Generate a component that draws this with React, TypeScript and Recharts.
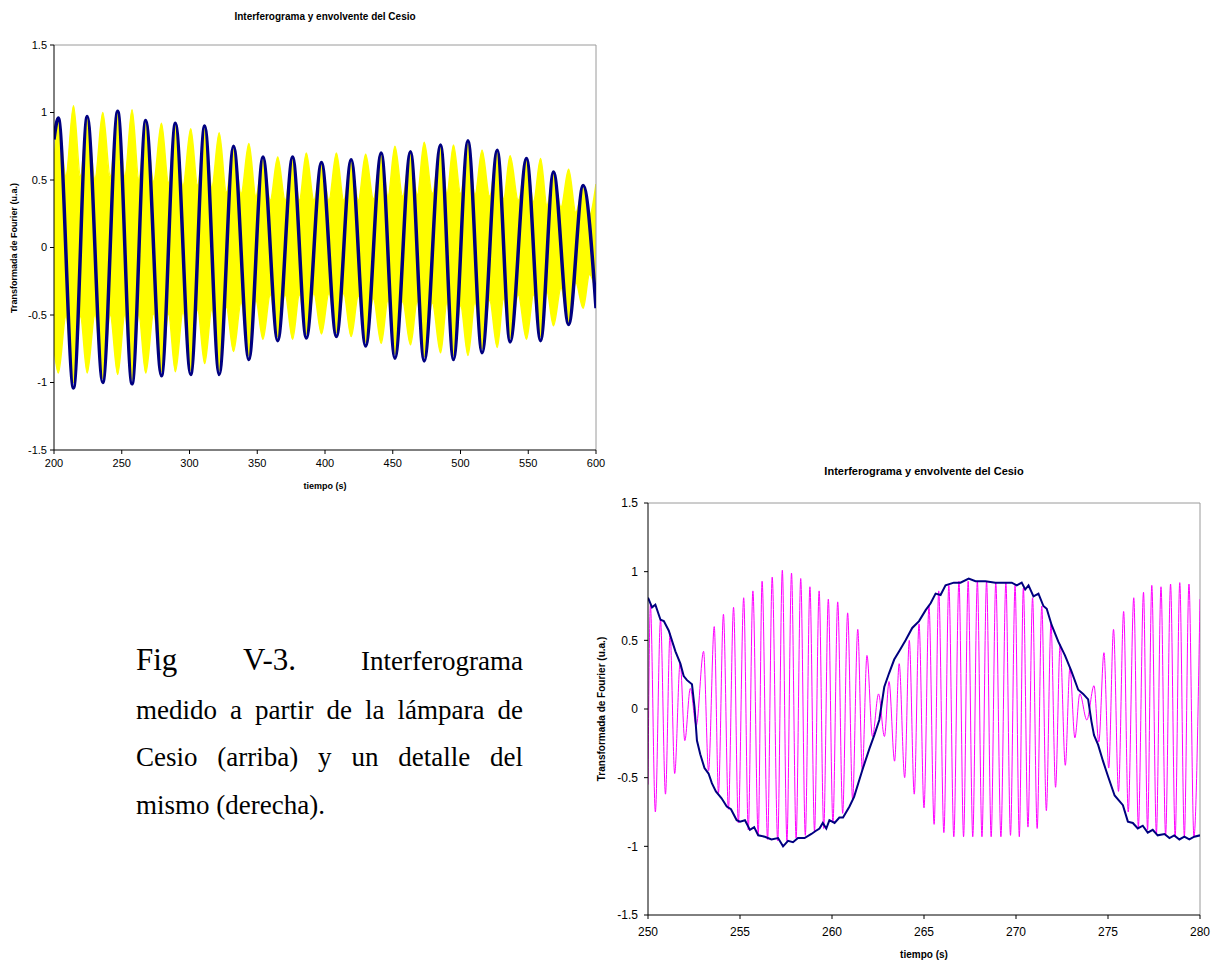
import React from 'react';
import {
    ComposedChart,
    Line,
    Area,
    XAxis,
    YAxis,
    ReferenceLine
} from 'recharts';

// ---- top panel: full interferogram 200–600 s ----
const overviewTicksX = [200, 250, 300, 350, 400, 450, 500, 550, 600];
const valueTicks = [-1.5, -1, -0.5, 0, 0.5, 1, 1.5];

// interferogram band (dense carrier drawn as its filled envelope): lobe centres and nodes
const bandTime = [
    200, 203.2, 208.8, 214.4, 219.5, 224.5, 230.2, 236.0, 241.5, 247.0, 252.3, 257.6, 262.6, 267.7,
    273.5, 279.3, 284.5, 289.6, 295.2, 300.9, 306.0, 311.2, 316.5, 321.9, 327.2, 332.5, 338.1, 343.8,
    349.0, 354.2, 359.6, 365.1, 370.6, 376.1, 381.1, 386.2, 391.8, 397.4, 402.9, 408.4, 413.8, 419.3,
    424.6, 430.0, 435.7, 441.5, 446.5, 451.6, 457.3, 463.1, 468.1, 473.2, 479.2, 485.3, 490.0, 494.8,
    500.1, 505.5, 510.7, 515.9, 521.5, 527.1, 531.8, 536.6, 542.6, 548.7, 553.9, 559.1, 563.8, 568.6,
    574.2, 579.8, 585.1, 590.5, 595.2, 600
];
const bandHigh = [
    0.62, 0.94, 0.53, 1.05, 0.53, 0.95, 0.51, 1.00, 0.53, 0.99, 0.53, 1.02, 0.51, 0.92,
    0.49, 0.92, 0.48, 0.90, 0.46, 0.88, 0.46, 0.88, 0.45, 0.85, 0.41, 0.73, 0.40, 0.77,
    0.38, 0.65, 0.35, 0.67, 0.35, 0.65, 0.35, 0.70, 0.35, 0.61, 0.35, 0.70, 0.35, 0.63,
    0.35, 0.69, 0.36, 0.68, 0.38, 0.75, 0.38, 0.69, 0.39, 0.78, 0.40, 0.74, 0.40, 0.76,
    0.40, 0.77, 0.39, 0.72, 0.38, 0.70, 0.36, 0.68, 0.35, 0.64, 0.34, 0.66, 0.31, 0.54,
    0.30, 0.58, 0.26, 0.44, 0.24, 0.47
];
const bandLow = [
    -0.75, -0.93, -0.51, -1.00, -0.51, -0.93, -0.50, -0.97, -0.50, -0.94, -0.50, -0.98, -0.50, -0.93,
    -0.49, -0.92, -0.49, -0.92, -0.48, -0.91, -0.46, -0.86, -0.46, -0.91, -0.44, -0.77, -0.41, -0.80,
    -0.39, -0.68, -0.35, -0.66, -0.35, -0.68, -0.35, -0.64, -0.34, -0.64, -0.34, -0.63, -0.34, -0.66,
    -0.36, -0.70, -0.38, -0.71, -0.39, -0.79, -0.40, -0.72, -0.40, -0.81, -0.41, -0.78, -0.41, -0.80,
    -0.43, -0.80, -0.41, -0.75, -0.39, -0.74, -0.38, -0.67, -0.35, -0.68, -0.35, -0.66, -0.33, -0.58,
    -0.30, -0.55, -0.26, -0.45, -0.20, -0.33
];

// envelope extremes over the whole record
const envTime = [
    200, 203.2, 214.4, 224.5, 236.0, 247.0, 257.6, 267.7, 279.3, 289.6, 300.9, 311.2, 321.9,
    332.5, 343.8, 354.2, 365.1, 376.1, 386.2, 397.4, 408.4, 419.3, 430.0, 441.5, 451.6, 463.1,
    473.2, 485.3, 494.8, 505.5, 515.9, 527.1, 536.6, 548.7, 559.1, 568.6, 579.8, 590.5, 600
];
const envValue = [
    0.80, 0.96, -1.04, 0.97, -1.00, 1.01, -1.01, 0.94, -0.95, 0.92, -0.94, 0.90, -0.94,
    0.75, -0.83, 0.67, -0.69, 0.67, -0.67, 0.63, -0.66, 0.65, -0.73, 0.70, -0.82, 0.71,
    -0.84, 0.76, -0.83, 0.79, -0.78, 0.72, -0.70, 0.66, -0.69, 0.56, -0.57, 0.46, -0.45
];

// ---- bottom panel: detail 250–280 s ----
const detailTicksX = [250, 255, 260, 265, 270, 275, 280];

const signalTime = [
    250.00, 250.13, 250.40, 250.68, 250.95, 251.20, 251.45, 251.75, 252.00, 252.30, 252.62,
    253.02, 253.29, 253.60, 253.83, 254.10, 254.37, 254.65, 254.91, 255.20, 255.45, 255.70,
    255.99, 256.20, 256.50, 256.75, 257.05, 257.30, 257.55, 257.80, 258.05, 258.30, 258.55,
    258.80, 259.05, 259.30, 259.55, 259.80, 260.05, 260.31, 260.58, 260.85, 261.12, 261.40,
    261.65, 261.90, 262.20, 262.53, 262.85, 263.10, 263.40, 263.65, 263.95, 264.20, 264.47,
    264.73, 265.00, 265.27, 265.55, 265.80, 266.08, 266.35, 266.62, 266.90, 267.15, 267.40,
    267.65, 267.90, 268.15, 268.40, 268.65, 268.90, 269.18, 269.45, 269.70, 269.95, 270.18,
    270.40, 270.65, 270.90, 271.15, 271.40, 271.65, 271.90, 272.15, 272.40, 272.68, 272.93,
    273.20, 273.47, 273.85, 274.24, 274.50, 274.78, 275.04, 275.30, 275.57, 275.85, 276.10,
    276.40, 276.65, 276.93, 277.15, 277.38, 277.63, 277.88, 278.13, 278.40, 278.65, 278.90,
    279.15, 279.40, 279.67, 280.00
];
const signalValue = [
    -0.55, 0.76, -0.75, 0.65, -0.62, 0.55, -0.47, 0.34, -0.23, 0.15, -0.12,
    0.42, -0.45, 0.60, -0.61, 0.69, -0.73, 0.74, -0.83, 0.81, -0.88, 0.86,
    -0.92, 0.93, -0.95, 0.96, -0.96, 1.01, -0.96, 0.99, -0.94, 0.95, -0.92,
    0.89, -0.89, 0.86, -0.87, 0.80, -0.83, 0.78, -0.76, 0.70, -0.66, 0.58,
    -0.45, 0.39, -0.20, 0.11, -0.20, 0.20, -0.38, 0.33, -0.50, 0.50, -0.62,
    0.62, -0.72, 0.75, -0.84, 0.86, -0.90, 0.90, -0.93, 0.93, -0.93, 0.93,
    -0.93, 0.93, -0.93, 0.93, -0.93, 0.92, -0.93, 0.92, -0.92, 0.90, -0.93,
    0.88, -0.86, 0.81, -0.87, 0.75, -0.74, 0.62, -0.57, 0.47, -0.41, 0.30,
    -0.21, 0.11, -0.08, 0.17, -0.24, 0.41, -0.43, 0.58, -0.60, 0.71, -0.75,
    0.81, -0.86, 0.85, -0.88, 0.90, -0.91, 0.89, -0.92, 0.91, -0.93, 0.92,
    -0.93, 0.91, -0.93, 0.80
];

const detailEnvTime = [
    250.00, 250.22, 250.40, 250.68, 250.86, 251.13, 251.49, 251.76, 251.94, 252.12, 252.39,
    252.53, 252.66, 252.84, 253.07, 253.29, 253.47, 253.69, 254.00, 254.28, 254.51, 254.82,
    255.00, 255.27, 255.54, 255.77, 255.99, 256.35, 256.71, 257.07, 257.34, 257.61, 257.88,
    258.15, 258.51, 258.88, 259.09, 259.32, 259.50, 259.69, 259.86, 260.14, 260.40, 260.60,
    260.95, 261.20, 261.66, 262.03, 262.30, 262.57, 262.84, 263.10, 263.38, 263.65, 264.00,
    264.36, 264.73, 265.09, 265.36, 265.63, 265.90, 266.17, 266.62, 266.98, 267.43, 267.80,
    268.34, 268.88, 269.42, 269.77, 270.04, 270.31, 270.50, 270.68, 270.95, 271.22, 271.49,
    271.67, 271.94, 272.30, 272.66, 273.00, 273.38, 273.65, 273.92, 274.10, 274.24, 274.46,
    274.73, 275.00, 275.36, 275.81, 276.08, 276.35, 276.62, 276.89, 277.16, 277.43, 277.70,
    278.07, 278.34, 278.60, 278.88, 279.15, 279.42, 279.69, 280.00
];
const detailEnvValue = [
    0.81, 0.74, 0.76, 0.65, 0.64, 0.57, 0.42, 0.33, 0.24, 0.21, 0.18,
    0.01, -0.23, -0.33, -0.43, -0.47, -0.54, -0.60, -0.65, -0.71, -0.73, -0.81,
    -0.82, -0.81, -0.88, -0.86, -0.92, -0.93, -0.95, -0.94, -1.00, -0.96, -0.97,
    -0.94, -0.94, -0.91, -0.89, -0.87, -0.83, -0.87, -0.81, -0.83, -0.79, -0.79,
    -0.71, -0.64, -0.44, -0.29, -0.19, -0.08, 0.16, 0.26, 0.36, 0.42, 0.50,
    0.59, 0.64, 0.72, 0.77, 0.84, 0.83, 0.90, 0.92, 0.92, 0.95, 0.93,
    0.93, 0.92, 0.92, 0.92, 0.90, 0.92, 0.87, 0.90, 0.82, 0.84, 0.75,
    0.73, 0.61, 0.49, 0.39, 0.28, 0.14, 0.11, 0.07, -0.09, -0.19, -0.26,
    -0.38, -0.49, -0.63, -0.70, -0.82, -0.83, -0.87, -0.85, -0.90, -0.88, -0.92,
    -0.91, -0.94, -0.92, -0.95, -0.93, -0.95, -0.93, -0.92
];

const bandRows = bandTime.map((t, i) => ({ t, band: [bandLow[i], bandHigh[i]] }));
const envRows = envTime.map((t, i) => ({ t, v: envValue[i] }));
const signalRows = signalTime.map((t, i) => ({ t, v: signalValue[i] }));
const detailEnvRows = detailEnvTime.map((t, i) => ({ t, v: detailEnvValue[i] }));

const SANS = '"Liberation Sans", Arial, sans-serif';
const SERIF = '"Liberation Serif", "Times New Roman", serif';
const FRAME = '#9a9a9a';

const Label = ({ x, y, size, text, vertical }: { x: number; y: number; size: number; text: string; vertical?: boolean }) => (
    <div
        style={{
            position: 'absolute',
            left: x,
            top: y,
            transform: `translate(-50%, -50%)${vertical ? ' rotate(-90deg)' : ''}`,
            fontFamily: SANS,
            fontWeight: 'bold',
            fontSize: size,
            lineHeight: 1,
            whiteSpace: 'nowrap',
            color: '#000'
        }}
    >
        {text}
    </div>
);

const OverviewChart = () => (
    <div style={{ position: 'absolute', left: 0, top: 0 }}>
        <ComposedChart width={610} height={500} margin={{ top: 45, right: 14, bottom: 20, left: 24 }}>
            <XAxis
                type="number"
                dataKey="t"
                domain={[200, 600]}
                ticks={overviewTicksX}
                allowDataOverflow
                height={30}
                stroke="#000"
                tickSize={4}
                tickMargin={5}
                tick={{ fontSize: 11, fill: '#000', fontFamily: SANS }}
            />
            <YAxis
                type="number"
                domain={[-1.5, 1.5]}
                ticks={valueTicks}
                allowDataOverflow
                width={30}
                stroke="#000"
                tickSize={4}
                tickMargin={3}
                tick={{ fontSize: 11, fill: '#000', fontFamily: SANS }}
            />
            <ReferenceLine y={1.5} stroke={FRAME} />
            <ReferenceLine x={600} stroke={FRAME} />
            <Area
                type="monotone"
                data={bandRows}
                dataKey="band"
                stroke="#ffff00"
                strokeWidth={1.5}
                fill="#ffff00"
                fillOpacity={1}
                dot={false}
                activeDot={false}
                isAnimationActive={false}
            />
            <Line
                type="monotone"
                data={envRows}
                dataKey="v"
                stroke="#000080"
                strokeWidth={3.5}
                dot={false}
                activeDot={false}
                isAnimationActive={false}
            />
        </ComposedChart>
        <Label x={325} y={17} size={10} text="Interferograma y envolvente del Cesio" />
        <Label x={14} y={248} size={9} text="Transformada de Fourier (u.a.)" vertical />
        <Label x={325} y={486} size={9} text="tiempo (s)" />
    </div>
);

const DetailChart = () => (
    <div style={{ position: 'absolute', left: 590, top: 460 }}>
        <ComposedChart width={623} height={502} margin={{ top: 43, right: 13, bottom: 17, left: 28 }}>
            <XAxis
                type="number"
                dataKey="t"
                domain={[250, 280]}
                ticks={detailTicksX}
                allowDataOverflow
                height={30}
                stroke="#000"
                tickSize={4}
                tickMargin={8}
                tick={{ fontSize: 12, fill: '#000', fontFamily: SANS }}
            />
            <YAxis
                type="number"
                domain={[-1.5, 1.5]}
                ticks={valueTicks}
                allowDataOverflow
                width={30}
                stroke="#000"
                tickSize={4}
                tickMargin={6}
                tick={{ fontSize: 12, fill: '#000', fontFamily: SANS }}
            />
            <ReferenceLine y={1.5} stroke={FRAME} />
            <ReferenceLine x={280} stroke={FRAME} />
            <Line
                type="monotone"
                data={signalRows}
                dataKey="v"
                stroke="#ff00ff"
                strokeWidth={1}
                dot={false}
                activeDot={false}
                isAnimationActive={false}
            />
            <Line
                type="linear"
                data={detailEnvRows}
                dataKey="v"
                stroke="#000080"
                strokeWidth={2}
                dot={false}
                activeDot={false}
                isAnimationActive={false}
            />
        </ComposedChart>
        <Label x={334} y={11} size={11} text="Interferograma y envolvente del Cesio" />
        <Label x={12} y={249} size={10} text="Transformada de Fourier (u.a.)" vertical />
        <Label x={334} y={495} size={10} text="tiempo (s)" />
    </div>
);

const captionLine = (top: number, justify: boolean): React.CSSProperties => ({
    position: 'absolute',
    left: 136,
    top,
    width: 387,
    fontFamily: SERIF,
    fontSize: 27,
    lineHeight: '30px',
    color: '#000',
    textAlign: justify ? 'justify' : 'left',
    textAlignLast: justify ? 'justify' : 'left'
});

const Caption = () => (
    <>
        <div style={captionLine(645, true)}>
            <span style={{ fontSize: 31 }}>Fig V-3.</span> Interferograma
        </div>
        <div style={captionLine(695, true)}>medido a partir de la lámpara de</div>
        <div style={captionLine(742, true)}>Cesio (arriba) y un detalle del</div>
        <div style={captionLine(790, false)}>mismo (derecha).</div>
    </>
);

export default function App() {
    return (
        <div style={{ position: 'absolute', left: 0, top: 0, width: 1213, height: 962, background: '#fff', overflow: 'hidden' }}>
            <OverviewChart />
            <DetailChart />
            <Caption />
        </div>
    );
}
